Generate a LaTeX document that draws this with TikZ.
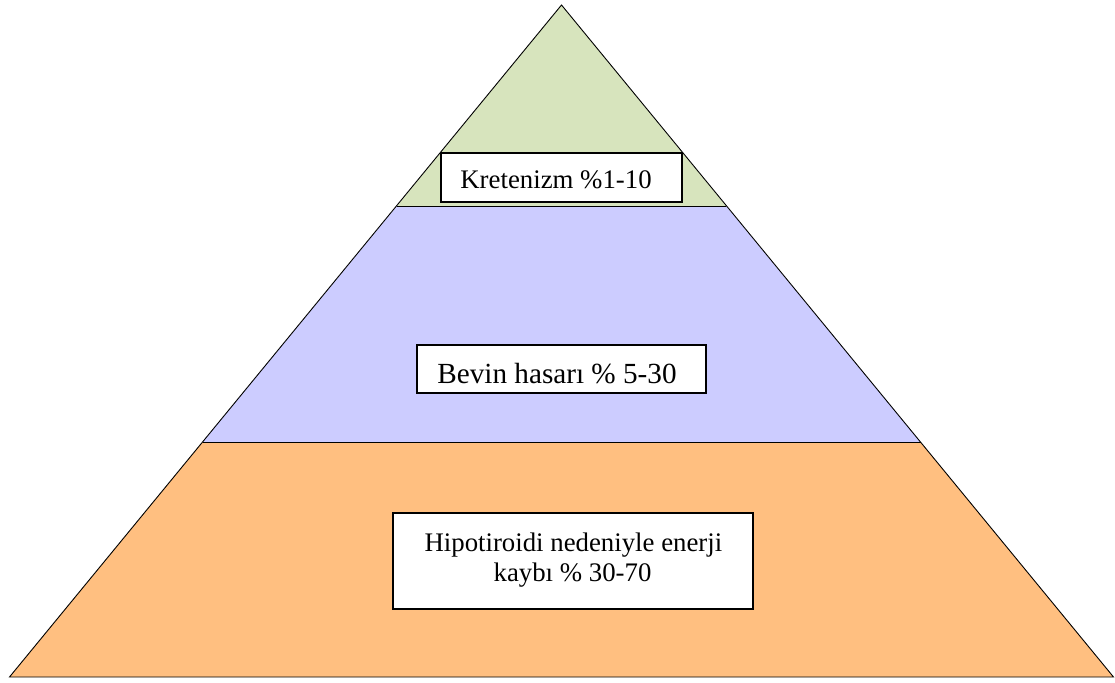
\documentclass[tikz,border=0pt]{standalone}
\usepackage{fontspec}
\setmainfont{Liberation Serif}
\definecolor{topgreen}{HTML}{D7E4BD}
\definecolor{midblue}{HTML}{CCCCFF}
\definecolor{baseorange}{HTML}{FFBF80}
\begin{document}
\begin{tikzpicture}[x=1pt,y=-1pt,
  tier/.style={line width=0.9pt,draw=black,line join=miter},
  labelbox/.style={draw=black,fill=white,line width=1.4pt,inner sep=0pt},
  labeltext/.style={inner sep=0pt,anchor=base,text=black}]
\useasboundingbox (0,0) rectangle (1115,682);
% corner points of the pyramid and its tiers
\coordinate (apex) at (561.5,5);
\coordinate (t1l) at (397,206);
\coordinate (t1r) at (726,206);
\coordinate (t2l) at (202.5,442);
\coordinate (t2r) at (920.5,442);
\coordinate (bl) at (9.5,677);
\coordinate (br) at (1113.5,677);
% tiers
\fill[topgreen] (apex) -- (t1r) -- (t1l) -- cycle;
\fill[midblue] (t1l) -- (t1r) -- (t2r) -- (t2l) -- cycle;
\fill[baseorange] (t2l) -- (t2r) -- (br) -- (bl) -- cycle;
\draw[tier] (apex) -- (br) -- (bl) -- cycle;
\draw[tier] (t1l) -- (t1r);
\draw[tier] (t2l) -- (t2r);
% label boxes
\node[labelbox,minimum width=241pt,minimum height=49pt] (box1) at (561.5,177.5) {};
\node[labelbox,minimum width=289pt,minimum height=48pt] (box2) at (561.5,369) {};
\node[labelbox,minimum width=360pt,minimum height=96pt] (box3) at (573,561) {};
% label texts
\node[labeltext,font=\fontsize{26.8pt}{30pt}\selectfont] (txt1) at (556,188) {Kretenizm \%1-10};
\node[labeltext,font=\fontsize{29.2pt}{32pt}\selectfont] (txt2) at (557,383) {Bevin hasarı \% 5-30};
\node[labeltext,font=\fontsize{26.8pt}{30pt}\selectfont] (txt3a) at (573.4,551) {Hipotiroidi nedeniyle enerji};
\node[labeltext,font=\fontsize{26.8pt}{30pt}\selectfont] (txt3b) at (572.5,581) {kaybı \% 30-70};
\end{tikzpicture}
\end{document}
